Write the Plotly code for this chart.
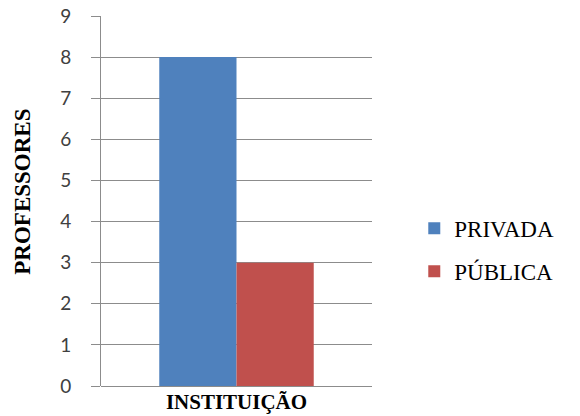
import plotly.graph_objects as go

# Number of teachers by type of institution
categories = ["INSTITUIÇÃO"]
series_names = ["PRIVADA", "PÚBLICA"]
privada = [8]
publica = [3]
y_ticks = list(range(0, 10))

colors = ["#4F81BD", "#C0504D"]
grid_color = "#8C8C8C"
serif = "Liberation Serif, Times New Roman, serif"

fig = go.Figure()
for name, vals, col in zip(series_names, [privada, publica], colors):
    fig.add_trace(go.Bar(
        x=categories, y=vals, name=name, legendgroup=name,
        marker=dict(color=col, line=dict(width=0)),
    ))

fig.update_layout(
    width=580, height=416,
    margin=dict(l=101, r=208, t=16, b=30),
    paper_bgcolor="white", plot_bgcolor="white",
    barmode="group", bargap=0.43, bargroupgap=0,
    showlegend=True,
    legend=dict(
        x=1.156, y=0.368, xanchor="left", yanchor="middle",
        font=dict(family=serif, size=23, color="#000000"),
        itemwidth=30, tracegroupgap=10,
        bgcolor="rgba(0,0,0,0)",
    ),
    xaxis=dict(
        showgrid=False, showline=False, ticks="",
        tickfont=dict(family=serif, size=21, color="#000000", weight="bold"),
        ticklabelstandoff=1, automargin=False,
        fixedrange=True,
    ),
    yaxis=dict(
        range=[0, 9], tickvals=y_ticks, ticktext=[str(v) for v in y_ticks],
        showgrid=True, gridcolor=grid_color, gridwidth=1,
        showline=True, linecolor=grid_color, linewidth=1,
        ticks="outside", ticklen=9, tickcolor=grid_color,
        tickfont=dict(family="Lato", size=19, color="#404040"),
        zeroline=True, zerolinecolor=grid_color, zerolinewidth=1,
        ticklabelstandoff=16, automargin=False,
    ),
    annotations=[dict(
        text="<b>PROFESSORES</b>", textangle=-90,
        xref="paper", yref="paper", x=-0.288, y=0.525,
        xanchor="center", yanchor="middle", showarrow=False,
        font=dict(family=serif, size=23, color="#000000"),
    )],
)

fig.write_html("out.html")
